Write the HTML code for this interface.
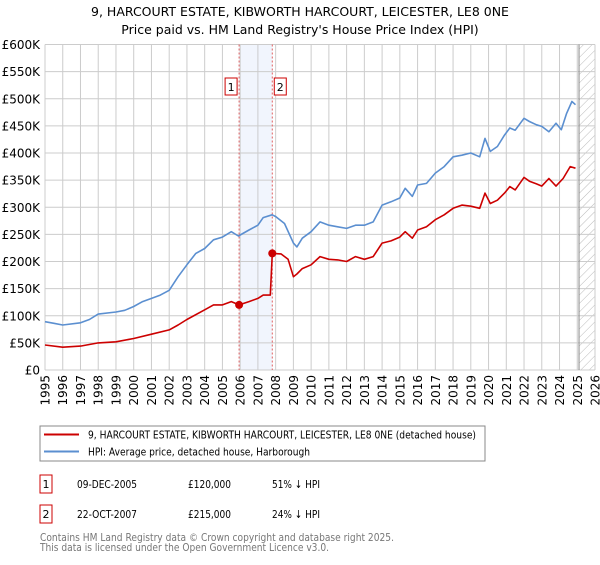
<!DOCTYPE html>
<html><head><meta charset="utf-8"><style>
body{margin:0;background:#fff;font-family:"Liberation Sans","DejaVu Sans",sans-serif;}
svg text{font-family:"DejaVu Sans","Liberation Sans",sans-serif;}
</style></head><body>
<svg id="chart" width="600" height="560" xmlns="http://www.w3.org/2000/svg">
<defs><pattern id="hatch" width="6" height="6" patternUnits="userSpaceOnUse" patternTransform="rotate(45)"><line x1="0" y1="0" x2="0" y2="6" stroke="#bbb" stroke-width="1"/></pattern></defs>
<text x="300" y="16" text-anchor="middle" font-size="12.5">9, HARCOURT ESTATE, KIBWORTH HARCOURT, LEICESTER, LE8 0NE</text>
<text x="300" y="34" text-anchor="middle" font-size="12.5">Price paid vs. HM Land Registry's House Price Index (HPI)</text>
<g id="grid"></g><g id="marks"></g><g id="axes"></g>
<rect x="40" y="426" width="445" height="35" fill="#fff" stroke="#888"/>
<line x1="44" y1="434.5" x2="79" y2="434.5" stroke="#cc0000" stroke-width="2"/>
<text x="88" y="438.5" font-size="10.5" textLength="388" lengthAdjust="spacingAndGlyphs">9, HARCOURT ESTATE, KIBWORTH HARCOURT, LEICESTER, LE8 0NE (detached house)</text>
<line x1="44" y1="451.5" x2="79" y2="451.5" stroke="#5b8fd0" stroke-width="2"/>
<text x="88" y="455.5" font-size="10.5" textLength="222" lengthAdjust="spacingAndGlyphs">HPI: Average price, detached house, Harborough</text>
<g font-size="11">
<rect x="40" y="475" width="12" height="18" fill="#fff" stroke="#cc0000"/><text x="46" y="488" text-anchor="middle">1</text>
<text x="77" y="488" textLength="60" lengthAdjust="spacingAndGlyphs">09-DEC-2005</text><text x="188" y="488" textLength="43" lengthAdjust="spacingAndGlyphs">£120,000</text><text x="272" y="488" textLength="48" lengthAdjust="spacingAndGlyphs">51% ↓ HPI</text></g>
<g font-size="11">
<rect x="40" y="505" width="12" height="18" fill="#fff" stroke="#cc0000"/><text x="46" y="518" text-anchor="middle">2</text>
<text x="77" y="518" textLength="60" lengthAdjust="spacingAndGlyphs">22-OCT-2007</text><text x="188" y="518" textLength="43" lengthAdjust="spacingAndGlyphs">£215,000</text><text x="272" y="518" textLength="48" lengthAdjust="spacingAndGlyphs">24% ↓ HPI</text></g>
<text x="40" y="541" font-size="10.5" fill="#777" textLength="354" lengthAdjust="spacingAndGlyphs">Contains HM Land Registry data © Crown copyright and database right 2025.</text>
<text x="40" y="551" font-size="10.5" fill="#777" textLength="289" lengthAdjust="spacingAndGlyphs">This data is licensed under the Open Government Licence v3.0.</text>
</svg>
<script>
const hpiYears=[1995,1995.5,1996,1997,1997.5,1998,1999,1999.5,2000,2000.5,2001,2001.5,2002,2002.5,2003,2003.5,2004,2004.5,2005,2005.5,2005.9,2006.5,2007,2007.3,2007.8,2008,2008.5,2009,2009.2,2009.5,2010,2010.5,2011,2011.5,2012,2012.5,2013,2013.5,2014,2014.5,2015,2015.3,2015.7,2016,2016.5,2017,2017.5,2018,2018.5,2019,2019.5,2019.8,2020.1,2020.5,2020.9,2021.2,2021.5,2022,2022.3,2022.7,2023,2023.4,2023.8,2024.1,2024.4,2024.7,2024.9];
const hpiValues=[89,86,83,87,93,103,107,110,117,126,132,138,147,172,194,215,224,240,245,255,247,258,267,281,286,283,270,234,227,243,255,273,267,264,261,267,267,273,304,310,317,335,320,341,344,363,375,393,396,400,393,427,403,412,433,446,442,464,458,452,449,439,455,443,473,495,489];
const ppYears=[1995,1996,1997,1998,1999,2000,2001,2002,2002.5,2003,2004,2004.5,2005,2005.5,2005.94,2006.5,2007,2007.3,2007.7,2007.81,2008.3,2008.7,2009,2009.2,2009.5,2010,2010.5,2011,2011.5,2012,2012.5,2013,2013.5,2014,2014.5,2015,2015.3,2015.7,2016,2016.5,2017,2017.5,2018,2018.5,2019,2019.5,2019.8,2020.1,2020.5,2020.9,2021.2,2021.5,2022,2022.3,2022.7,2023,2023.4,2023.8,2024.2,2024.6,2024.9];
const ppValues=[46,42,44,50,52,58,66,74,83,93,111,120,120,126,120,126,132,138,138,215,214,204,172,177,187,194,209,204,203,200,209,204,209,234,238,245,255,243,258,264,277,286,298,304,302,298,326,307,313,326,338,332,355,348,343,339,353,339,353,375,372];
const saleYears=[2005.94,2007.81];
const saleValues=[120,215];
const saleLabels=["1","2"];
const yTicks=[0,50,100,150,200,250,300,350,400,450,500,550,600];
const yTickLabels=["£0","£50K","£100K","£150K","£200K","£250K","£300K","£350K","£400K","£450K","£500K","£550K","£600K"];
const xTicks=[1995,1996,1997,1998,1999,2000,2001,2002,2003,2004,2005,2006,2007,2008,2009,2010,2011,2012,2013,2014,2015,2016,2017,2018,2019,2020,2021,2022,2023,2024,2025,2026];

const X0=45,X1=595,Y0=370,Y1=44.5;
const xs=y=>X0+(y-1995)/(2026-1995)*(X1-X0);
const ys=v=>Y0-v/600*(Y0-Y1);
const NS="http://www.w3.org/2000/svg";
function mk(parent,tag,attrs){const e=document.createElementNS(NS,tag);for(const k in attrs)e.setAttribute(k,attrs[k]);parent.appendChild(e);return e;}
const grid=document.getElementById('grid'),marks=document.getElementById('marks'),axes=document.getElementById('axes');
const band=mk(grid,'rect',{x:xs(saleYears[0]),y:Y1,width:xs(saleYears[1])-xs(saleYears[0]),height:Y0-Y1,fill:'#f1f5fd'});


const hz=mk(grid,'rect',{x:xs(2025.1),y:Y1,width:X1-xs(2025.1),height:Y0-Y1,fill:'url(#hatch)'});


yTicks.forEach((t,i)=>{
  const l=mk(grid,'line',{x1:X0,x2:X1,y1:ys(t),y2:ys(t),stroke:'#cccccc','stroke-width':1});
  
  
  const tx=mk(axes,'text',{x:X0-5,y:ys(t)+4.5,'text-anchor':'end','font-size':12});
  tx.textContent=yTickLabels[i];
  
  
});
xTicks.forEach(t=>{
  const l=mk(grid,'line',{x1:xs(t),x2:xs(t),y1:Y1,y2:Y0,stroke:'#cccccc','stroke-width':1});
  
  
  const tx=mk(axes,'text',{x:0,y:0,'text-anchor':'end','font-size':12,transform:`translate(${xs(t)+4.5},${Y0+5}) rotate(-90)`});
  tx.textContent=t;
  
  
});
const vline=mk(grid,'line',{x1:xs(2025.1),x2:xs(2025.1),y1:Y1,y2:Y0,stroke:'#888','stroke-width':1});


saleYears.forEach((sy,i)=>{
  const l=mk(marks,'line',{x1:xs(sy),x2:xs(sy),y1:Y1,y2:Y0,stroke:'#e06060','stroke-width':1,'stroke-dasharray':'2,2'});
  
  
});
function path(xa,va,color,name){
  const d=xa.map((x,i)=>(i?'L':'M')+xs(x).toFixed(1)+','+ys(va[i]).toFixed(1)).join('');
  const p=mk(marks,'path',{d:d,fill:'none',stroke:color,'stroke-width':1.6,'stroke-linejoin':'round'});
  
  
}
path(hpiYears,hpiValues,'#5b8fd0','hpi-line');
path(ppYears,ppValues,'#cc0000','price-paid-line');
saleYears.forEach((sy,i)=>{
  const c=mk(marks,'circle',{cx:xs(sy),cy:ys(saleValues[i]),r:4,fill:'#cc0000'});
  
  
  const bx=xs(sy)-(i===0?14:-2);
  const r=mk(marks,'rect',{x:bx,y:78,width:12,height:17,fill:'#fff',stroke:'#cc0000'});
  
  
  const t=mk(marks,'text',{x:bx+6,y:91,'text-anchor':'middle','font-size':11});
  t.textContent=saleLabels[i];
  
  
});
</script>
</body></html>
